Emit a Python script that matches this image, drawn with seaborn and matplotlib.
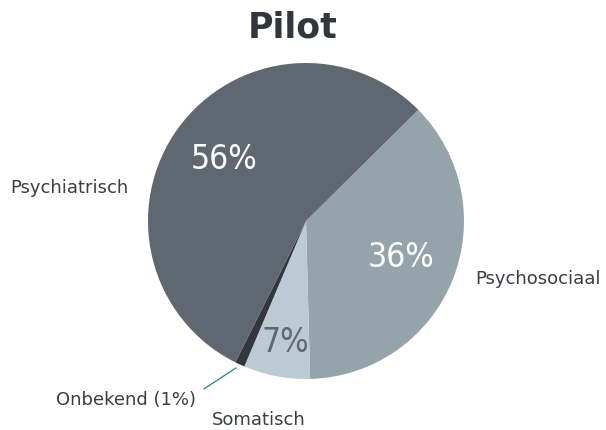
import matplotlib
matplotlib.use("Agg")
import matplotlib.pyplot as plt
import seaborn as sns

sns.set_theme(style="white")
plt.rcParams['font.family'] = ['DejaVu Sans']

# data (wedge sizes, labels as printed)
labels = ['Psychosociaal', 'Somatisch', 'Onbekend (1%)', 'Psychiatrisch']
sizes = [37.0, 6.8, 1.0, 55.2]
pct_labels = ['36%', '7%', '1%', '56%']
colors = ['#95a3aa', '#bccbd3', '#33363d', '#5f6770']

fig = plt.figure(figsize=(6.06, 4.30), dpi=100)
ax = fig.add_axes([148 / 606, 51 / 430, 316 / 606, 316 / 430])
ax.pie(sizes, colors=colors, startangle=44.7, counterclock=False, radius=1,
       wedgeprops=dict(linewidth=0))
ax.set_xlim(-1, 1)
ax.set_ylim(-1, 1)
ax.set_aspect('equal')
ax.axis('off')

# percentage labels
pct_kw = dict(fontsize=24, family=['DejaVu Sans'], fontstretch='condensed',
              ha='center', va='center')
ax.text(-0.52, 0.39, pct_labels[3], color='white', **pct_kw)
ax.text(0.60, -0.23, pct_labels[0], color='white', **pct_kw)
ax.text(-0.133, -0.77, pct_labels[1], color='#5f6770', **pct_kw)

# category labels
lab_kw = dict(color='#3a3d44', fontsize=13, ha='center', va='center')
ax.text(-1.50, 0.21, labels[3], **lab_kw)
ax.text(1.47, -0.37, labels[0], **lab_kw)
ax.text(-0.30, -1.26, labels[1], **lab_kw)
ax.text(-1.14, -1.13, labels[2], **lab_kw)
ax.plot([-0.443, -0.646], [-0.93, -1.063], color='#2a7f8a', lw=0.9,
        clip_on=False)

fig.text(293 / 606, 1 - 27 / 430, 'Pilot', color='#33363d', fontsize=25,
         fontweight='bold', ha='center', va='center')

fig.savefig('out.png', dpi=100)
